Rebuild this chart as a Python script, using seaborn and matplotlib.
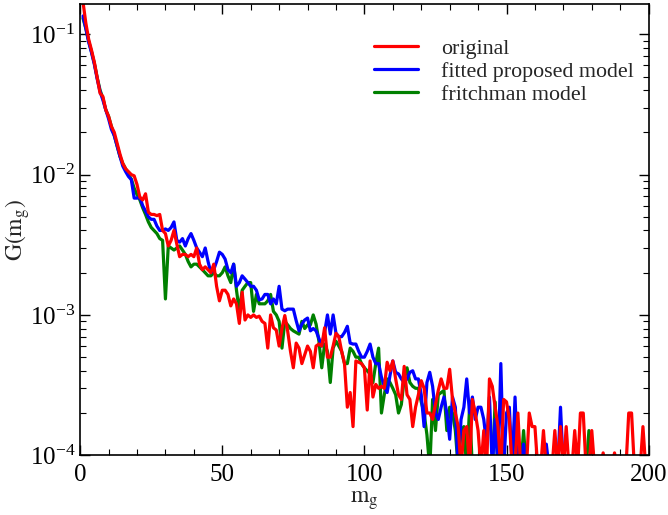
import numpy as np
import pandas as pd
import seaborn as sns
import matplotlib
matplotlib.use("Agg")
import matplotlib.pyplot as plt
from matplotlib.ticker import MultipleLocator, LogLocator, NullFormatter

# m_g = 1..200 ; values read below the 1e-4 floor are given as 8e-5
m_g = list(range(1, 201))
B = 8e-5

original = [
    0.17, 0.12, 0.092, 0.077, 0.063, 0.049, 0.038, 0.036, 0.029, 0.026,
    0.022, 0.020, 0.0167, 0.014, 0.012, 0.011, 0.0105, 0.0100, 0.0098, 0.0085,
    0.0069, 0.0066, 0.0073, 0.0054, 0.0052, 0.0052, 0.0051, 0.0052, 0.0040, 0.0038,
    0.0031, 0.0034, 0.0040, 0.0032, 0.0026, 0.0027, 0.0027, 0.0026, 0.0027, 0.0026,
    0.0030, 0.0023, 0.0021, 0.0022, 0.0021, 0.0020, 0.0023, 0.0016, 0.00126, 0.0015,
    0.0015, 0.0014, 0.00116, 0.0013, 0.0012, 0.00087, 0.00145, 0.00092, 0.0010, 0.00096,
    0.0010, 0.00096, 0.00098, 0.0009, 0.00087, 0.00058, 0.0010, 0.00081, 0.00078, 0.0006,
    0.0008, 0.00099, 0.00077, 0.00055, 0.00042, 0.00063, 0.00058, 0.00045, 0.00052, 0.0006,
    0.00055, 0.00042, 0.0006, 0.00062, 0.0006, 0.00081, 0.0005, 0.0005, 0.0006, 0.00074,
    0.0007, 0.00055, 0.00045, 0.00022, 0.00028, 0.00016, 0.00047, 0.00046, 0.00045, 0.00042,
    0.00021, 0.00047, 0.00026, 0.00032, 0.0003, 0.00031, 0.0003, 0.00046, 0.0004, 0.00047,
    0.00035, 0.00027, 0.00025, 0.00043, 0.00027, 0.00025, 0.00016, 0.00022, 0.00027, 0.00034,
    0.0003, 0.0002, 0.0002, 0.00018, 0.00023, 0.00029, 0.00035, 0.0003, 0.0003, 0.00041,
    0.00025, 0.0002, 0.00016, B, 0.00015, 0.00016, B, 0.00025, 0.0002, 0.00015,
    B, 0.00015, B, 0.00035, 0.00031, 0.00022, 0.00016, B, 0.00025, 0.00024,
    0.00018, B, B, 0.0002, B, B, B, 0.0002, 0.00016, 0.00016,
    B, B, 0.00015, B, B, B, 0.00015, B, 0.00016, B,
    0.00016, B, B, 0.00015, B, 0.0002, 0.0002, B, B, 0.00015,
    B, B, B, 0.000104, B, B, B, 0.000104, B, B,
    B, B, 0.0002, 0.0002, B, B, B, 0.00016, B, B,
]

fitted = [
    0.135, 0.11, 0.088, 0.074, 0.061, 0.048, 0.039, 0.034, 0.029, 0.025,
    0.021, 0.019, 0.016, 0.0135, 0.0115, 0.0105, 0.0097, 0.0092, 0.0068, 0.0068,
    0.0069, 0.006, 0.0055, 0.0050, 0.0048, 0.0048, 0.0043, 0.0040, 0.0040, 0.0041,
    0.0040, 0.0042, 0.0046, 0.0034, 0.0033, 0.0035, 0.0031, 0.0035, 0.0038, 0.0034,
    0.0030, 0.0028, 0.0026, 0.0030, 0.0024, 0.0020, 0.0021, 0.0024, 0.0028, 0.0027,
    0.0025, 0.0021, 0.0020, 0.0023, 0.0016, 0.0017, 0.0019, 0.0018, 0.0017, 0.0016,
    0.0016, 0.0015, 0.00128, 0.0013, 0.0014, 0.0014, 0.0012, 0.0013, 0.0012, 0.0016,
    0.0011, 0.00107, 0.0011, 0.0011, 0.0011, 0.00091, 0.00077, 0.00086, 0.00092, 0.00095,
    0.00077, 0.0008, 0.00077, 0.00068, 0.0006, 0.00075, 0.001, 0.00073, 0.001, 0.00074,
    0.0007, 0.0007, 0.00075, 0.00083, 0.00063, 0.00062, 0.00062, 0.00055, 0.0005, 0.0005,
    0.00055, 0.00062, 0.0005, 0.00045, 0.00045, 0.00036, 0.00031, 0.00028, 0.00037, 0.00047,
    0.00039, 0.00038, 0.00035, 0.00033, 0.00035, 0.00039, 0.0004, 0.00035, 0.00035, 0.00027,
    0.00016, 0.00033, 0.00039, 0.00031, 0.0002, 0.00018, 0.00022, 0.00026, 0.0002, 0.00013,
    0.00026, 0.00022, B, 0.00018, 0.00022, 0.00035, 0.0002, 0.00026, 0.00018, 0.00022,
    0.00022, 0.00018, 0.00012, 0.00026, B, 0.00018, B, 0.00045, B, 0.0002,
    0.00022, B, 0.00026, B, B, 0.00012, B, B, B, B,
    B, B, B, 0.00012, B, B, B, B, 0.00022, B,
    B, B, B, B, B, B, B, B, B, B,
    B, B, B, B, B, B, B, B, B, B,
    B, B, B, B, B, B, B, B, B, B,
]

fritchman = [
    0.13, 0.11, 0.089, 0.075, 0.062, 0.049, 0.040, 0.035, 0.029, 0.026,
    0.022, 0.019, 0.016, 0.0135, 0.012, 0.011, 0.0100, 0.0093, 0.0080, 0.0072,
    0.0066, 0.0058, 0.0052, 0.0046, 0.0042, 0.0040, 0.0038, 0.0035, 0.0034, 0.0013,
    0.0031, 0.0030, 0.0029, 0.0030, 0.0031, 0.0029, 0.0027, 0.0024, 0.0022, 0.0023,
    0.0023, 0.0022, 0.0021, 0.0020, 0.0019, 0.0019, 0.0020, 0.0019, 0.0019, 0.0020,
    0.0022, 0.0019, 0.0017, 0.0023, 0.0015, 0.00106, 0.0015, 0.0016, 0.0017, 0.0017,
    0.00106, 0.0014, 0.0012, 0.0012, 0.0012, 0.00126, 0.0014, 0.00106, 0.001, 0.0009,
    0.00058, 0.0009, 0.00085, 0.0008, 0.00077, 0.00075, 0.00073, 0.0009, 0.0008, 0.00085,
    0.00085, 0.001, 0.00086, 0.00065, 0.00042, 0.00062, 0.00055, 0.00033, 0.00058, 0.00065,
    0.0006, 0.00055, 0.00045, 0.00045, 0.00058, 0.00055, 0.0005, 0.0005, 0.00045, 0.00042,
    0.0004, 0.00038, 0.00033, 0.00045, 0.00058, 0.0002, 0.00027, 0.00035, 0.00033, 0.0003,
    0.00027, 0.0002, 0.00023, 0.00035, 0.00042, 0.00033, 0.00031, 0.0003, 0.0003, 0.00024,
    0.0002, 0.00014, B, 0.00025, 0.00015, 0.00027, 0.00028, 0.00029, 0.00015, 0.00022,
    0.0002, 0.00015, B, 0.00015, 0.00016, B, 0.00022, B, B, B,
    B, B, B, B, B, 0.00024, B, B, B, B,
    B, B, 0.0002, B, B, 0.00015, B, B, B, B,
    B, B, B, B, B, B, B, B, B, B,
    B, B, B, B, B, B, B, B, 0.00015, B,
    B, B, B, B, B, B, B, B, B, B,
    B, B, B, B, B, B, B, B, B, B,
]

labels = ["original", "fitted proposed model", "fritchman model"]
colors = ["#ff0000", "#0000ff", "#008000"]

sns.set_theme(style="white")
plt.rcParams["font.family"] = ["Liberation Serif", "DejaVu Serif"]
plt.rcParams["mathtext.fontset"] = "stix"

fig = plt.figure(figsize=(6.68, 5.15), dpi=100)
ax = fig.add_axes([0.12, 0.116, 0.851, 0.876])

series = {labels[0]: original, labels[1]: fitted, labels[2]: fritchman}
draw_order = [2, 1, 0]
for i in draw_order:
    df = pd.DataFrame({"m": m_g, "G": series[labels[i]]})
    sns.lineplot(data=df, x="m", y="G", ax=ax, color=colors[i], linewidth=2.3,
                 label=labels[i], errorbar=None, estimator=None, sort=True)

ax.set_yscale("log", nonpositive="clip")
ax.set_xlim(0, 200)
ax.set_ylim(1e-4, 0.164)

ax.xaxis.set_major_locator(MultipleLocator(50))
ax.xaxis.set_minor_locator(MultipleLocator(10))
ax.yaxis.set_major_locator(LogLocator(base=10, numticks=10))
ax.yaxis.set_minor_locator(LogLocator(base=10, subs=np.arange(2, 10), numticks=20))
ax.yaxis.set_minor_formatter(NullFormatter())

ax.tick_params(which="both", direction="in", top=True, right=True,
               bottom=True, left=True, colors="black", labelsize=18)
ax.tick_params(which="major", length=7, width=1)
ax.tick_params(which="minor", length=4, width=0.8)
ax.tick_params(axis="x", pad=6)
for s in ax.spines.values():
    s.set_color("black")
    s.set_linewidth(1.2)

ax.set_xlabel(r"$\mathrm{m_g}$", fontsize=17)
ax.set_ylabel(r"$\mathrm{G(m_g)}$", fontsize=17)
ax.xaxis.set_label_coords(0.5, -0.074)
ax.yaxis.set_label_coords(-0.085, 0.5)

handles, labs = ax.get_legend_handles_labels()
order = [labs.index(l) for l in labels]
ax.legend([handles[k] for k in order], [labs[k] for k in order],
          loc="upper right", bbox_to_anchor=(1.008, 0.968), frameon=False,
          fontsize=15.8, handlelength=2.0, handletextpad=1.05, labelspacing=0.12)

fig.savefig("out.png", dpi=100)
